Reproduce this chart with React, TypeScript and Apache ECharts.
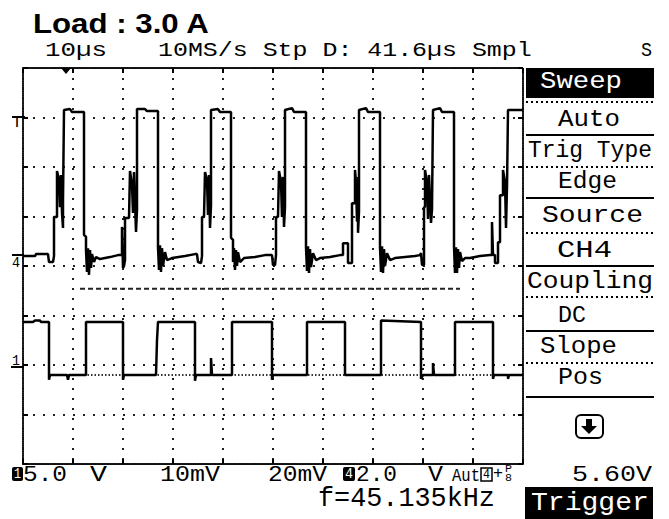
import React, { useEffect, useRef } from 'react';
import * as echarts from 'echarts';

const W = 669;
const H = 519;

// Time axis: microseconds (10 µs / div), level axis: divisions from screen centre
const timeTicks = [0, 10, 20, 30, 40, 50, 60, 70, 80, 90, 100];

// CH4 trace, one array per switching pulse: [µs, div]
const ch4Pulse1 = [[0,0.20],[2.4,0.20],[2.6,0.24],[5.0,0.24],[5.2,0.08],[6.0,0.08],[6.2,0.20],[6.2,0.99],[6.8,0.99],[6.8,1.92],[7.2,1.74],[7.4,1.19],[7.6,1.84],[7.8,1.07],[8.0,0.77],[8.0,1.33],[8.2,3.15],[9.4,3.17],[9.8,3.11],[12.2,3.11],[12.2,0.63],[12.6,0.59],[12.6,0.32],[12.8,-0.12],[13.0,0.36],[13.2,-0.18],[13.4,0.32],[13.6,-0.04],[13.8,0.24],[14.2,0.08],[14.6,0.18],[15.4,0.14],[17.4,0.18],[19.0,0.22],[19.6,0.22]];
const ch4Pulse2 = [[19.8,0.22],[19.8,0.79],[20.0,-0.04],[20.2,0.00],[20.4,0.12],[20.4,0.97],[21.2,0.97],[21.4,1.92],[21.8,1.64],[22.0,1.07],[22.2,1.90],[22.6,0.69],[22.8,1.13],[22.8,3.17],[24.4,3.17],[24.8,3.13],[27.0,3.13],[27.0,0.38],[27.2,-0.08],[27.4,0.42],[27.6,-0.12],[27.8,0.36],[28.0,0.00],[28.4,0.28],[28.8,0.12],[29.8,0.16],[32.4,0.20],[34.4,0.24]];
const ch4Pulse3 = [[34.8,0.24],[35.0,0.08],[35.6,0.06],[35.8,0.20],[35.8,0.99],[36.2,0.99],[36.4,1.90],[36.8,1.74],[37.0,1.03],[37.2,1.84],[37.4,0.77],[37.6,1.23],[37.6,3.15],[39.0,3.17],[39.4,3.11],[41.6,3.11],[41.6,0.57],[42.0,0.53],[42.0,0.08],[42.2,0.36],[42.4,-0.08],[42.6,0.32],[42.8,0.00],[43.0,0.28],[43.4,0.08],[44.2,0.16],[46.4,0.18],[48.4,0.22],[49.6,0.22]];
const ch4Pulse4 = [[49.8,0.22],[50.0,0.02],[50.4,0.02],[50.6,0.22],[50.6,0.99],[51.0,0.99],[51.2,1.92],[51.6,1.70],[51.8,0.99],[52.0,1.80],[52.2,0.79],[52.4,1.20],[52.4,3.15],[53.8,3.19],[54.2,3.11],[56.6,3.11],[56.6,0.38],[56.8,-0.10],[57.0,0.40],[57.2,-0.14],[57.4,0.34],[57.6,-0.02],[58.0,0.26],[58.6,0.12],[59.4,0.16],[61.4,0.18],[63.4,0.22],[64.0,0.22],[64.0,0.46],[65.0,0.46]];
const ch4Pulse5 = [[65.0,0.06],[65.8,0.06],[65.8,1.27],[66.4,1.27],[66.4,1.94],[66.6,1.70],[66.8,0.90],[67.0,1.80],[67.0,0.67],[67.2,1.10],[67.2,3.15],[68.6,3.19],[69.0,3.11],[71.4,3.11],[71.4,0.38],[71.6,-0.12],[71.8,0.40],[72.0,-0.14],[72.2,0.34],[72.4,0.00],[72.8,0.26],[73.4,0.12],[74.4,0.16],[76.4,0.18],[78.4,0.20],[79.4,0.22]];
const ch4Pulse6 = [[79.6,0.26],[79.8,0.02],[80.2,0.02],[80.2,1.19],[80.4,1.19],[80.4,1.94],[80.8,1.70],[81.0,0.95],[81.2,1.84],[81.6,0.87],[81.8,1.15],[82.0,3.15],[83.4,3.19],[83.8,3.11],[86.2,3.11],[86.2,0.40],[86.4,-0.14],[86.6,0.38],[86.8,-0.14],[87.0,0.34],[87.2,-0.04],[87.4,0.28],[87.8,0.10],[88.4,0.16],[89.4,0.16],[91.4,0.20],[93.4,0.22]];
const ch4Pulse7 = [[93.8,0.22],[93.8,0.89],[94.0,0.22],[94.4,0.22],[94.4,0.06],[95.0,0.06],[95.0,0.48],[95.4,0.48],[95.4,1.43],[96.0,1.43],[96.0,1.94],[96.4,1.70],[96.6,0.77],[96.8,1.60],[97.0,3.15],[100,3.15]];

// CH1 trace (gate drive square wave): [µs, div]
const ch1Trace = [[0,-1.13],[2.0,-1.13],[2.4,-1.10],[3.4,-1.10],[3.6,-1.13],[5.2,-1.13],[5.2,-2.30],[5.4,-2.20],[8.8,-2.20],[9.0,-2.30],[9.2,-2.20],[12.6,-2.20],[12.6,-1.13],[20.0,-1.13],[20.0,-2.30],[20.2,-2.20],[26.6,-2.20],[26.8,-1.50],[27.0,-1.13],[34.4,-1.13],[34.4,-2.32],[34.6,-2.20],[37.6,-2.20],[37.6,-1.86],[37.8,-2.20],[41.8,-2.20],[41.8,-1.13],[49.8,-1.13],[49.8,-2.30],[50.0,-2.20],[56.8,-2.20],[56.8,-1.13],[64.4,-1.13],[64.4,-2.20],[71.6,-2.20],[71.6,-1.10],[79.6,-1.13],[79.6,-2.28],[80.0,-2.20],[82.0,-2.20],[82.0,-1.96],[82.2,-2.20],[86.4,-2.20],[86.4,-1.13],[94.0,-1.13],[94.0,-2.28],[94.2,-2.20],[97.0,-2.20],[97.0,-2.28],[97.2,-2.20],[100,-2.20]];

// Reference levels
const dashedLevel = [[11.4,-0.46],[87.4,-0.46]];
const dottedLevel = [[5.2,-2.20],[100,-2.20]];

// Texts
const titleText = 'Load : 3.0 A';
const headerTexts = ['10µs', '10MS/s Stp D: 41.6µs Smpl', 'S'];
const menuItems = ['Sweep', 'Auto', 'Trig Type', 'Edge', 'Source', 'CH4', 'Coupling', 'DC', 'Slope', 'Pos'];
const bottomTexts = ['5.0', 'V', '10mV', '20mV', '2.0', 'V', 'Aut', '+', '5.60V'];
const freqText = 'f=45.135kHz';
const triggerText = 'Trigger';

export default function App() {
  const ref = useRef<HTMLDivElement>(null);
  useEffect(() => {
    const el = ref.current!;
    const chart = echarts.init(el, undefined, { renderer: 'svg', width: W, height: H });
    const ctx = document.createElement('canvas').getContext('2d')!;
    const MONO = 'Liberation Mono';
    const fit = (text: string, x1: number, x2: number, cy: number, size: number, opts: any = {}) => {
      const family = opts.family ?? MONO;
      const weight = opts.weight ?? 'normal';
      ctx.font = `${weight} ${size}px "${family}"`;
      const w = ctx.measureText(text).width || 1;
      return {
        type: 'text', x: x1, y: cy, scaleX: (x2 - x1) / w, z: 20,
        style: {
          text, fontSize: size, fontFamily: family, fontWeight: weight, fill: opts.fill ?? '#000',
          textAlign: 'left', textVerticalAlign: 'middle', align: 'left', verticalAlign: 'middle',
        },
      };
    };
    const hline = (x1: number, x2: number, y: number, dotted: boolean) => ({
      type: 'line', z: 20,
      shape: { x1, y1: y, x2, y2: y },
      style: { stroke: '#000', lineWidth: 2, lineDash: dotted ? [2, 3] : null },
    });

    const dotted = { color: '#222', width: 2, type: [2, 8] as any };
    const border = { color: '#111', width: 2, type: [1, 1] as any };
    const axisCommon = (extra: any) => ({
      type: 'value',
      axisLabel: { show: false },
      axisLine: { show: true, onZero: false, lineStyle: border },
      axisTick: { show: true, inside: true, length: 5, lineStyle: { color: '#000', width: 2 } },
      ...extra,
    });

    const menuY = [82, 119, 150, 182, 216, 250.5, 281.5, 315, 346, 378];
    const menuX = [[540, 622], [558, 620], [528, 652], [558, 617], [542, 643], [557, 612], [527, 653], [558, 586], [540, 617], [558, 603]];

    const elements: any[] = [
      fit(titleText, 33, 210, 23, 28, { family: 'Liberation Sans', weight: 'bold' }),
      fit(headerTexts[0], 45, 107, 50.5, 21),
      fit(headerTexts[1], 158, 532, 50.5, 21),
      fit(headerTexts[2], 641, 652, 50.5, 21),
      { type: 'rect', z: 19, shape: { x: 526, y: 68, width: 128, height: 30 }, style: { fill: '#000' } },
      hline(526, 654, 102, true),
      hline(526, 654, 135, false),
      hline(526, 654, 167, true),
      hline(526, 654, 198, false),
      hline(526, 654, 233, true),
      hline(526, 654, 266, false),
      hline(526, 654, 297, true),
      hline(526, 654, 331, false),
      hline(526, 654, 363, true),
      hline(526, 654, 397, false),
      ...menuItems.map((t, i) => fit(t, menuX[i][0], menuX[i][1], menuY[i], 24, { fill: i === 0 ? '#fff' : '#000' })),
      { type: 'rect', z: 20, shape: { x: 576, y: 415, width: 27, height: 23, r: 5 }, style: { fill: '#fff', stroke: '#000', lineWidth: 2 } },
      { type: 'polygon', z: 21, shape: { points: [[586, 419], [592, 419], [592, 426], [597, 426], [589, 434], [581, 426], [586, 426]] }, style: { fill: '#000' } },
      fit(bottomTexts[8], 572, 652, 475, 22),
      { type: 'rect', z: 19, shape: { x: 525, y: 487, width: 128, height: 32 }, style: { fill: '#000' } },
      fit(triggerText, 531, 649, 503, 26, { fill: '#fff' }),
      // bottom status row
      { type: 'rect', z: 19, shape: { x: 12, y: 467, width: 11, height: 14, r: 2 }, style: { fill: '#000' } },
      fit('1', 14, 21, 474, 14, { fill: '#fff' }),
      fit(bottomTexts[0], 23, 67, 475, 22),
      fit(bottomTexts[1], 90, 107, 475, 22),
      fit(bottomTexts[2], 160, 220, 475, 22),
      fit(bottomTexts[3], 268, 327, 475, 22),
      { type: 'rect', z: 19, shape: { x: 343, y: 467, width: 12, height: 14, r: 2 }, style: { fill: '#000' } },
      fit('4', 345, 353, 474, 14, { fill: '#fff' }),
      fit(bottomTexts[4], 356, 397, 475, 22),
      fit(bottomTexts[5], 428, 443, 475, 22),
      fit(bottomTexts[6], 452, 480, 476, 18),
      { type: 'rect', z: 19, shape: { x: 481, y: 468, width: 11, height: 13 }, style: { fill: 'none', stroke: '#000', lineWidth: 1.5 } },
      fit('4', 483, 490, 474.5, 12),
      fit(bottomTexts[7], 493, 503, 474, 16),
      fit('P', 505, 512, 469, 10),
      fit('8', 505, 512, 478, 10),
      fit(freqText, 318, 495, 499, 27),
      // channel markers on the left
      { type: 'line', z: 20, shape: { x1: 12, y1: 117, x2: 25, y2: 117 }, style: { stroke: '#000', lineWidth: 2 } },
      fit('T', 12, 22, 123, 16),
      { type: 'line', z: 20, shape: { x1: 12, y1: 255, x2: 24, y2: 255 }, style: { stroke: '#000', lineWidth: 2 } },
      fit('4', 12, 20, 263, 15),
      fit('1', 12, 20, 361, 15),
      { type: 'line', z: 20, shape: { x1: 11, y1: 367, x2: 24, y2: 367 }, style: { stroke: '#000', lineWidth: 2 } },
      // trigger position marker
      { type: 'polygon', z: 20, shape: { points: [[61, 68], [71, 68], [66, 74]] }, style: { fill: '#000' } },
    ];

    const lineSeries = (data: number[][], lineStyle: any, z = 5) => ({
      type: 'line', data, showSymbol: false, symbol: 'none', z,
      lineStyle: { color: '#000', width: 2.5, ...lineStyle },
      emphasis: { disabled: true },
    });

    chart.setOption({
      animation: false,
      backgroundColor: '#fff',
      grid: { left: 23, top: 68, width: 500, height: 396, show: false },
      xAxis: [
        axisCommon({ min: 0, max: 100, interval: 10, position: 'bottom', splitLine: { show: true, lineStyle: dotted } }),
        axisCommon({ min: 0, max: 100, interval: 10, position: 'top', splitLine: { show: false } }),
      ],
      yAxis: [
        axisCommon({ min: -4, max: 4, interval: 1, position: 'left', splitLine: { show: true, lineStyle: dotted } }),
        axisCommon({ min: -4, max: 4, interval: 1, position: 'right', splitLine: { show: false } }),
      ],
      series: [
        lineSeries(dashedLevel, { type: [5, 3], color: '#222', width: 2 }, 3),
        lineSeries(dottedLevel, { type: [1.5, 2], color: '#333', width: 2 }, 3),
        lineSeries([...ch4Pulse1, ...ch4Pulse2, ...ch4Pulse3, ...ch4Pulse4, ...ch4Pulse5, ...ch4Pulse6, ...ch4Pulse7], {}),
        lineSeries(ch1Trace, {}),
      ],
      graphic: { elements },
    });
    return () => chart.dispose();
  }, []);
  return <div ref={ref} style={{ position: 'fixed', left: 0, top: 0, width: W, height: H, background: '#fff' }} />;
}
